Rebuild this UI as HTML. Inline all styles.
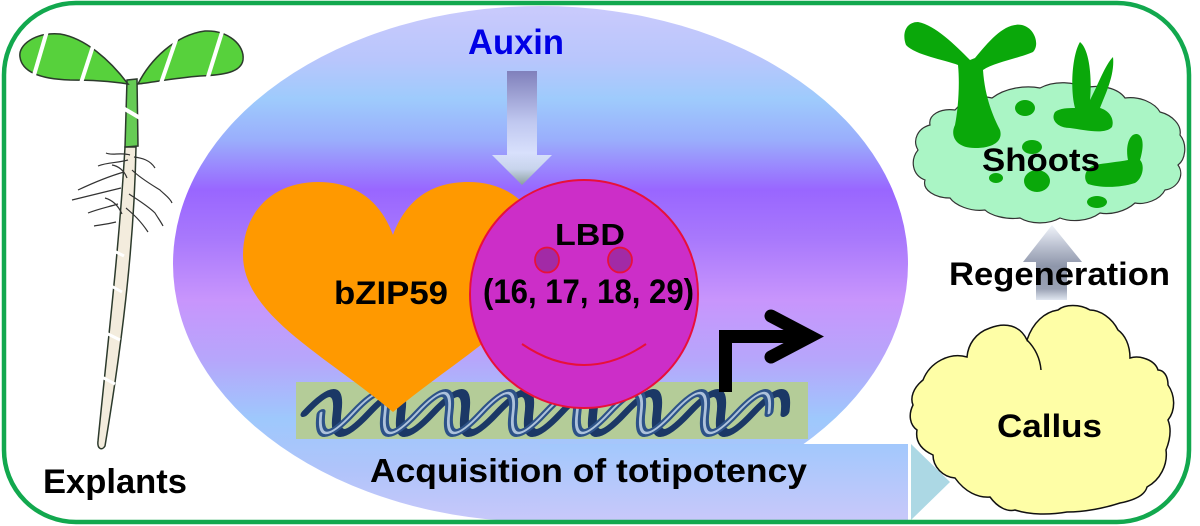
<!DOCTYPE html>
<html>
<head>
<meta charset="utf-8">
<style>
  html,body{margin:0;padding:0;background:#fff;}
  svg{display:block;}
  text{font-family:"Liberation Sans",Arial,sans-serif;font-weight:bold;}
</style>
</head>
<body>
<svg width="1200" height="526" viewBox="0 0 1200 526" xmlns="http://www.w3.org/2000/svg">
  <defs>
    <linearGradient id="ell" gradientUnits="userSpaceOnUse" x1="0" y1="6" x2="0" y2="522">
      <stop offset="0" stop-color="#cacafc"/>
      <stop offset="0.105" stop-color="#b8c6fc"/>
      <stop offset="0.18" stop-color="#9ecbfc"/>
      <stop offset="0.26" stop-color="#9aaefc"/>
      <stop offset="0.357" stop-color="#9966ff"/>
      <stop offset="0.45" stop-color="#a878fc"/>
      <stop offset="0.57" stop-color="#c895fc"/>
      <stop offset="0.686" stop-color="#b6a6fb"/>
      <stop offset="0.8" stop-color="#9ec8fc"/>
      <stop offset="0.9" stop-color="#b0c4fa"/>
      <stop offset="1" stop-color="#c8c8fa"/>
    </linearGradient>
    <linearGradient id="barg" gradientUnits="userSpaceOnUse" x1="0" y1="444" x2="0" y2="520">
      <stop offset="0" stop-color="#a2c8fc"/>
      <stop offset="1" stop-color="#c8c8fa"/>
    </linearGradient>
    <linearGradient id="aux" gradientUnits="userSpaceOnUse" x1="0" y1="71" x2="0" y2="185">
      <stop offset="0" stop-color="#8080bb"/>
      <stop offset="0.45" stop-color="#c0c8f0"/>
      <stop offset="0.72" stop-color="#d8e0fc"/>
      <stop offset="0.86" stop-color="#c8d4ec"/>
      <stop offset="1" stop-color="#8a9e9e"/>
    </linearGradient>
    <linearGradient id="reg" gradientUnits="userSpaceOnUse" x1="0" y1="225" x2="0" y2="300">
      <stop offset="0" stop-color="#f0f4fa"/>
      <stop offset="0.3" stop-color="#b8bece"/>
      <stop offset="0.55" stop-color="#8e96aa"/>
      <stop offset="0.85" stop-color="#9aa2b4"/>
      <stop offset="1" stop-color="#e0e6f0"/>
    </linearGradient>
    <clipPath id="band"><rect x="296" y="382" width="512" height="57"/></clipPath>
  </defs>

  <!-- Big ellipse -->
  <ellipse cx="540.5" cy="264" rx="367.5" ry="258" fill="url(#ell)"/>

  <!-- bottom arrow -->
  <rect x="540" y="444" width="368" height="76" fill="url(#barg)"/>
  <polygon points="911,444 950,482 911,520" fill="#acd8e4"/>

  <!-- Auxin -->
  <text x="468" y="54" font-size="35" fill="#0000e6" textLength="96" lengthAdjust="spacingAndGlyphs">Auxin</text>
  <path d="M507,71 H537 V155 H552 L522,185 L492,155 H507 Z" fill="url(#aux)"/>

  <!-- DNA band -->
  <rect x="296" y="382" width="512" height="57" fill="#b4cc98"/>
  <g clip-path="url(#band)">
    <g fill="none" stroke-linecap="round" transform="translate(0,413) skewX(-28) translate(0,-413)">
      <path d="M305,413 q16,-40 32,0 t32,0 t32,0 t32,0 t32,0 t32,0 t32,0 t32,0 t32,0 t32,0 t32,0 t32,0 t32,0 t32,0 t32,0" stroke="#1b3866" stroke-width="8"/>
      <path d="M321,413 q16,40 32,0 t32,0 t32,0 t32,0 t32,0 t32,0 t32,0 t32,0 t32,0 t32,0 t32,0 t32,0 t32,0 t32,0" stroke="#2d5288" stroke-width="8"/>
      <path d="M321,413 q16,40 32,0 t32,0 t32,0 t32,0 t32,0 t32,0 t32,0 t32,0 t32,0 t32,0 t32,0 t32,0 t32,0 t32,0" stroke="#c4d6ea" stroke-width="2.5" opacity="0.85"/>
    </g>
  </g>

  <!-- Heart -->
  <path d="M393,235 C380,200 355,182 318,182 C270,182 243,215 243,255 C243,315 325,355 393,412 C461,355 543,315 543,255 C543,215 516,182 468,182 C431,182 406,200 393,235 Z" fill="#ff9900"/>

  <!-- LBD circle -->
  <circle cx="584" cy="294" r="114" fill="#cc2ec8" stroke="#e8103a" stroke-width="2"/>
  <ellipse cx="547" cy="260" rx="12" ry="12.5" fill="#a22aa6" stroke="#e8103a" stroke-width="1.8"/>
  <ellipse cx="620" cy="260" rx="12" ry="12.5" fill="#a22aa6" stroke="#e8103a" stroke-width="1.8"/>
  <path d="M522,344 Q584,386 646,344" fill="none" stroke="#e8103a" stroke-width="2"/>

  <text x="555" y="245" font-size="31" fill="#000" textLength="70" lengthAdjust="spacingAndGlyphs">LBD</text>
  <text x="483" y="303" font-size="34" fill="#000" textLength="211" lengthAdjust="spacingAndGlyphs">(16, 17, 18, 29)</text>
  <text x="334" y="304" font-size="32" fill="#000" textLength="114" lengthAdjust="spacingAndGlyphs">bZIP59</text>

  <!-- promoter arrow -->
  <path d="M725.5,392 V336.5 H808" fill="none" stroke="#000" stroke-width="13"/>
  <path d="M771,316 L810,336.5 L771,357" fill="none" stroke="#000" stroke-width="13" stroke-linecap="round" stroke-linejoin="miter"/>

  <text x="370" y="482" font-size="33" fill="#000" textLength="437" lengthAdjust="spacingAndGlyphs">Acquisition of totipotency</text>

  <!-- Seedling / explant -->
  <g stroke="#2c3a2c" stroke-width="1.5">
    <path d="M125,147 L136,147 C134,250 121,350 105,446 C102,451 97,449 98,441 C107,350 119,250 125,147 Z" fill="#f3ecdd"/>
    <path d="M127,80 L137,79 L138,146 L125,147 Z" fill="#66cc55"/>
    <path d="M128,84 C110,60 85,38 60,34 C35,32 18,45 20,57 C22,72 40,79 70,80 C95,80 115,82 128,84 Z" fill="#57d13c"/>
    <path d="M138,84 C150,60 175,35 205,31 C228,30 245,45 243,60 C241,72 225,75 200,76 C175,78 155,82 138,84 Z" fill="#57d13c"/>
  </g>
  <g stroke="#fff" stroke-width="4">
    <line x1="47" y1="31" x2="32" y2="82"/>
    <line x1="95" y1="40" x2="80" y2="86"/>
    <line x1="177" y1="37" x2="160" y2="86"/>
    <line x1="223" y1="29" x2="207" y2="80"/>
    <line x1="123" y1="108" x2="140" y2="118"/>
  </g>
  <g stroke="#333" stroke-width="1.2" fill="none">
    <path d="M130,155 C120,152 112,156 106,153"/>
    <path d="M128,160 C118,163 108,162 98,166"/>
    <path d="M124,172 C110,176 95,182 78,190"/>
    <path d="M121,188 C105,192 88,196 72,200"/>
    <path d="M118,204 C108,207 98,209 88,213"/>
    <path d="M116,222 C108,224 100,225 94,226"/>
    <path d="M134,157 C142,158 150,160 155,168"/>
    <path d="M132,170 C140,178 152,185 160,190 C165,195 170,198 172,203"/>
    <path d="M129,194 C138,200 148,206 155,213 C158,218 161,222 163,226"/>
    <path d="M126,208 C133,214 140,220 148,232"/>
    <path d="M122,214 C118,205 112,200 105,198"/>
    <path d="M127,178 C124,170 118,166 112,165"/>
  </g>
  <g stroke="#fff" stroke-width="3">
    <line x1="106" y1="247" x2="124" y2="256"/>
    <line x1="104" y1="282" x2="122" y2="292"/>
    <line x1="102" y1="331" x2="120" y2="340"/>
    <line x1="98" y1="375" x2="115" y2="384"/>
  </g>
  <text x="43" y="493" font-size="34" fill="#000" textLength="144" lengthAdjust="spacingAndGlyphs">Explants</text>

  <!-- Shoots -->
  <path d="M918,150 C912,140 918,128 930,125 C928,115 940,108 955,110 C965,98 980,95 992,98 C1005,88 1025,85 1040,88 C1055,80 1075,82 1085,88 C1100,84 1118,88 1125,98 C1140,96 1155,103 1160,112 C1172,115 1182,125 1180,135 C1188,145 1185,160 1178,165 C1185,175 1178,188 1165,190 C1160,200 1145,205 1135,203 C1125,212 1110,215 1100,213 C1088,222 1070,222 1060,218 C1048,225 1030,224 1020,218 C1005,220 990,215 985,210 C970,212 955,205 950,198 C935,198 922,190 925,180 C912,175 910,160 918,150 Z" fill="#aaf5c5" stroke="#333" stroke-width="1.2"/>
  <g fill="#0aa80a">
    <path d="M970,60 C955,45 935,25 918,22 C905,22 902,35 906,45 C915,55 945,60 958,65 C960,85 958,110 955,125 C950,135 955,148 975,148 C995,148 1003,140 1000,130 C995,120 985,100 983,70 C995,62 1020,58 1033,52 C1040,45 1035,28 1022,25 C1005,22 990,40 975,58 Z"/>
    <path d="M1075,108 C1070,90 1072,55 1080,42 C1090,50 1092,80 1090,100 C1098,85 1105,65 1113,57 C1115,75 1105,95 1100,108 C1108,110 1115,118 1112,127 C1105,135 1085,130 1070,128 C1058,128 1050,120 1055,112 C1060,108 1068,108 1075,108 Z"/>
    <ellipse cx="1025" cy="108" rx="10" ry="8"/>
    <ellipse cx="1032" cy="147" rx="10" ry="7"/>
    <ellipse cx="1037" cy="181" rx="13" ry="11"/>
    <ellipse cx="996" cy="178" rx="7" ry="5"/>
    <ellipse cx="1097" cy="202" rx="10" ry="6"/>
    <path d="M1128,160 C1125,145 1130,133 1137,134 C1145,136 1143,150 1140,160 C1145,165 1143,178 1135,183 C1120,188 1100,188 1088,184 C1082,178 1086,167 1095,165 C1105,163 1118,162 1128,160 Z"/>
  </g>
  <text x="982" y="171" font-size="32" fill="#000" textLength="118" lengthAdjust="spacingAndGlyphs">Shoots</text>

  <!-- Regeneration arrow -->
  <path d="M1036,300 V262 H1023 L1052,225 L1082,262 H1067 V300 Z" fill="url(#reg)"/>
  <text x="949" y="285" font-size="32" fill="#000" textLength="221" lengthAdjust="spacingAndGlyphs">Regeneration</text>

  <!-- Callus -->
  <path d="M1027,340 C1020,325 1005,322 990,328 C975,333 968,345 967,357 C950,352 930,362 923,380 C913,388 910,398 913,405 C908,415 910,425 917,430 C915,442 922,450 933,455 C933,467 943,477 955,478 C965,492 978,498 990,497 C998,508 1008,512 1015,510 C1030,515 1050,515 1067,512 C1085,512 1105,508 1120,503 C1135,500 1145,495 1147,487 C1160,480 1168,465 1166,450 C1170,440 1172,430 1168,420 C1176,410 1175,395 1168,385 C1168,375 1163,370 1158,370 C1155,360 1140,355 1130,358 C1130,345 1125,335 1118,330 C1112,318 1100,310 1090,310 C1080,304 1065,304 1058,310 C1045,312 1033,322 1027,340 Z" fill="#fefea6" stroke="#111" stroke-width="1.5"/>
  <path d="M1027,340 C1035,348 1040,358 1041,370" fill="none" stroke="#111" stroke-width="1.5"/>
  <text x="997" y="437" font-size="32" fill="#000" textLength="105" lengthAdjust="spacingAndGlyphs">Callus</text>

  <!-- Outer border -->
  <rect x="4" y="3" width="1185" height="519" rx="72" ry="72" fill="none" stroke="#12a84e" stroke-width="4.5"/>
</svg>
</body>
</html>
